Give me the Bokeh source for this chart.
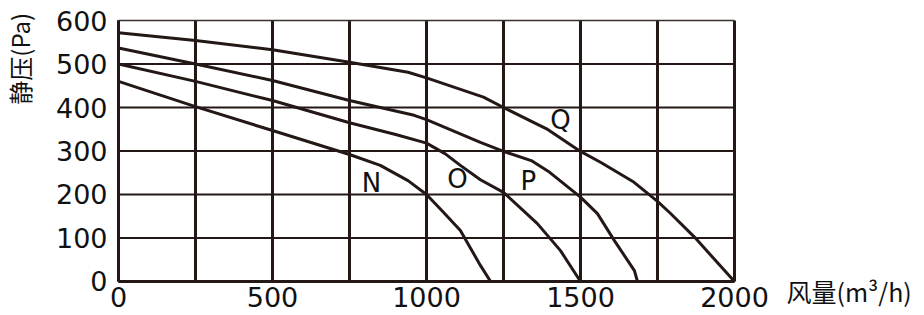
from bokeh.plotting import figure
from bokeh.models import Range1d, FixedTicker, LinearAxis, ColumnDataSource
from bokeh.core.properties import value
from bokeh.embed import file_html
from bokeh.resources import INLINE

# ---- data ----
n_x = [0, 250, 500, 750, 850, 940, 1000, 1055, 1110, 1175, 1208]
n_y = [460, 402, 347, 292, 267, 232, 200, 159, 117, 37, 0]

o_x = [0, 250, 500, 750, 900, 1000, 1060, 1110, 1175, 1250, 1360, 1435, 1500]
o_y = [500, 460, 416, 365, 338, 318, 294, 267, 234, 205, 133, 71, 0]

p_x = [0, 250, 500, 750, 960, 1000, 1175, 1250, 1340, 1400, 1500, 1555, 1610, 1675, 1685]
p_y = [537, 500, 462, 416, 382, 372, 320, 299, 278, 251, 194, 156, 94, 25, 0]

q_x = [0, 250, 500, 750, 940, 1000, 1185, 1250, 1390, 1500, 1565, 1670, 1750, 1790, 1870, 2000]
q_y = [572, 554, 533, 504, 481, 468, 424, 400, 351, 299, 274, 230, 184, 158, 102, 0]

curve_names = ["N", "O", "P", "Q"]
label_x = [821, 1101, 1331, 1435]
label_y = [226, 235, 231, 372]

x_ticks = [0, 500, 1000, 1500, 2000]
x_grid = [0, 250, 500, 750, 1000, 1250, 1500, 1750, 2000]
y_ticks = [0, 100, 200, 300, 400, 500, 600]

x_title = "风量(m³/h)"
y_title = "静压(Pa)"

X_MIN, X_MAX = 0, 2000
Y_MIN, Y_MAX = 0, 600
# anchor positions for the two axis titles (layout only)
X_TITLE_AT = -52      # y value level with the x tick labels
Y_TITLE_AT = 512      # y value of the centre of the rotated y title

INK = "#231815"
TXT = "#111111"

# the frame fills the whole canvas; axes are pinned at x=0 / y=0
p = figure(width=924, height=315, output_backend="svg", toolbar_location=None,
           x_range=Range1d(-383.1, 2616.9), y_range=Range1d(-78.2, 646),
           min_border=0)
p.background_fill_color = "white"
p.border_fill_color = "white"
p.outline_line_color = None
p.xgrid.visible = False
p.ygrid.visible = False

# grid lines drawn from the tick arrays
p.segment(x0=x_grid, y0=[Y_MIN] * len(x_grid), x1=x_grid, y1=[Y_MAX] * len(x_grid),
          line_color=INK, line_width=3)
inner_y = y_ticks[:-1]
p.segment(x0=[X_MIN] * len(inner_y), y0=inner_y, x1=[X_MAX] * len(inner_y), y1=inner_y,
          line_color=INK, line_width=2)
p.segment(x0=[X_MIN], y0=[Y_MAX], x1=[X_MAX], y1=[Y_MAX],
          line_color="#3a302c", line_width=1.4)

# axes
for ax in (p.xaxis[0], p.yaxis[0]):
    ax.axis_line_color = INK
    ax.axis_line_width = 3
    ax.major_tick_line_color = None
    ax.minor_tick_line_color = None
    ax.major_tick_out = 0
    ax.major_tick_in = 0
    ax.major_label_text_font = "DejaVu Sans"
    ax.major_label_text_font_size = "27px"
    ax.major_label_text_color = TXT
p.xaxis.ticker = FixedTicker(ticks=x_ticks)
p.xaxis.bounds = (X_MIN, X_MAX)
p.xaxis.fixed_location = Y_MIN
p.xaxis.major_label_standoff = 6
p.yaxis.ticker = FixedTicker(ticks=y_ticks)
p.yaxis.bounds = (Y_MIN, Y_MAX)
p.yaxis.fixed_location = X_MIN
p.yaxis.major_label_standoff = 11

# x title: a label on a right-hand axis pinned at x=2000
xt = LinearAxis(ticker=FixedTicker(ticks=[X_TITLE_AT]),
                major_label_overrides={X_TITLE_AT: x_title},
                fixed_location=X_MAX,
                axis_line_color=None, major_tick_line_color=None,
                minor_tick_line_color=None, major_tick_out=0, major_tick_in=0,
                major_label_standoff=52, major_label_text_font="Noto Sans CJK SC",
                major_label_text_font_size="25px", major_label_text_color=TXT)
p.add_layout(xt, "right")

# y title: a vertical label on a left-hand axis pinned at x=0
yt = LinearAxis(ticker=FixedTicker(ticks=[Y_TITLE_AT]),
                major_label_overrides={Y_TITLE_AT: y_title},
                fixed_location=X_MIN, major_label_orientation="vertical",
                axis_line_color=None, major_tick_line_color=None,
                minor_tick_line_color=None, major_tick_out=0, major_tick_in=0,
                major_label_standoff=81, major_label_text_font="Noto Sans CJK SC",
                major_label_text_font_size="24px", major_label_text_color=TXT)
p.add_layout(yt, "left")

# curves
for xs, ys in ((n_x, n_y), (o_x, o_y), (p_x, p_y), (q_x, q_y)):
    p.line(xs, ys, line_color=INK, line_width=3)

src = ColumnDataSource(dict(x=label_x, y=label_y, t=curve_names))
p.text(x="x", y="y", text="t", source=src, text_font=value("DejaVu Sans"),
       text_font_size="26px", text_align="center", text_baseline="middle",
       text_color=TXT)

open("out.html", "w").write(file_html(p, INLINE))
